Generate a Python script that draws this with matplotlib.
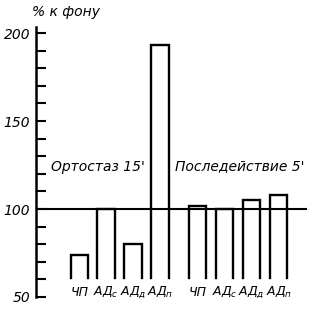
import numpy as np
import matplotlib.pyplot as plt

plt.rcParams['font.family'] = ['DejaVu Sans']
plt.rcParams['mathtext.fontset'] = 'custom'
plt.rcParams['mathtext.it'] = 'DejaVu Sans:italic'
plt.rcParams['mathtext.rm'] = 'DejaVu Sans:italic'

labels = ['ЧП', r'$АД_с$', r'$АД_д$', r'$АД_п$', 'ЧП', r'$АД_с$', r'$АД_д$', r'$АД_п$']
values = [74, 100, 80, 193, 102, 100, 105, 108]
positions = [0, 1, 2, 3, 4.4, 5.4, 6.4, 7.4]
base = 61
groups = ["Ортостаз 15'", "Последействие 5'"]

fig = plt.figure(figsize=(3.2, 3.1), dpi=100)
ax = fig.add_axes([0.1125, 0.042, 0.847, 0.871])

# open-bottom bars (three sides only)
w = 0.64
for p, v in zip(positions, values):
    ax.plot([p - w / 2, p - w / 2, p + w / 2, p + w / 2], [base, v, v, base],
            color='black', linewidth=1.7, solid_joinstyle='miter', zorder=2)
ax.axhline(100, color='black', linewidth=1.5, zorder=3)

for p, l in zip(positions, labels):
    ax.text(p, 52.8, l, ha='center', va='center', fontsize=9, style='italic')

ax.text(0.7, 124, groups[0], ha='center', va='center', fontsize=10, style='italic')
ax.text(5.95, 124.5, groups[1], ha='center', va='center', fontsize=10, style='italic')

ax.set_xlim(-1.6, 8.45)
ax.set_ylim(50, 203.5)
ax.set_yticks([50, 100, 150, 200])
ax.set_yticklabels(['50', '100', '150', '200'], fontsize=10, style='italic')
ax.set_yticks(np.arange(50, 201, 10), minor=True)
ax.tick_params(axis='y', which='both', direction='in', length=7, width=1.5, pad=4)
ax.set_xticks([])
for s in ['top', 'right', 'bottom']:
    ax.spines[s].set_visible(False)
ax.spines['left'].set_linewidth(1.8)

fig.text(0.205, 0.962, '% к фону', ha='center', va='center', fontsize=10, style='italic')

fig.savefig('out.png', dpi=100)
